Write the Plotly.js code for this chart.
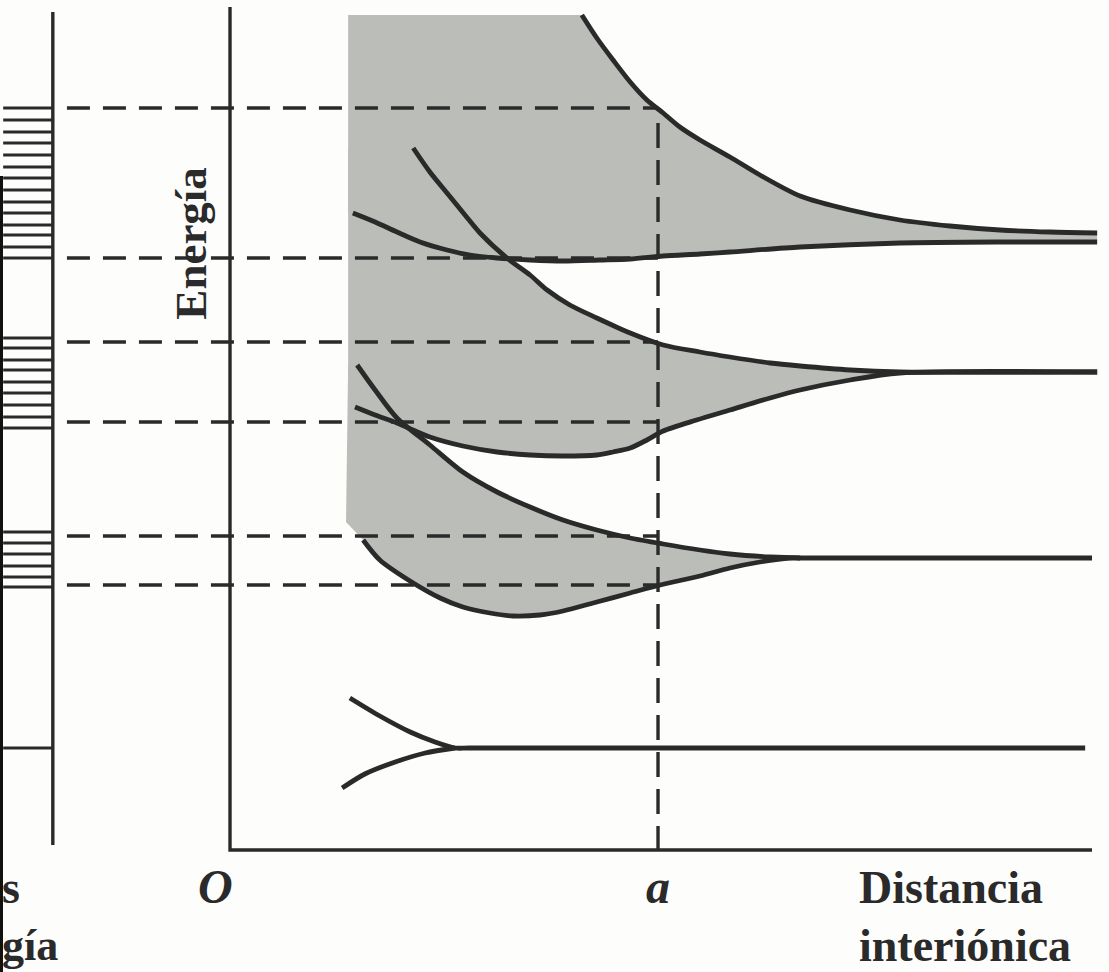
<!DOCTYPE html>
<html>
<head>
<meta charset="utf-8">
<script src="https://cdn.plot.ly/plotly-3.0.1.min.js"></script>
<style>html,body{margin:0;padding:0;background:#fdfdfb;}#chart{width:1109px;height:972px;}</style>
</head>
<body>
<div id="chart"></div>
<script>
// x: interionic distance in units of a (O = 0, a = 1); E: energy (arbitrary units)
const A_DIST = 1.0;

// lowest level (single, narrow)
const lvl0UpperX = [0.280, 0.350, 0.421, 0.479, 0.526, 0.560, 1.998];
const lvl0UpperE = [1.52, 1.34, 1.18, 1.08, 1.02, 1.02, 1.02];
const lvl0LowerX = [0.262, 0.315, 0.386, 0.456, 0.526];
const lvl0LowerE = [0.62, 0.76, 0.88, 0.97, 1.02];

// band 1
const band1UpperX = [0.297, 0.339, 0.390, 0.467, 0.544, 0.624, 0.701, 0.778, 0.857, 0.935, 1.012, 1.098, 1.168, 1.262, 1.332, 2.014];
const band1UpperE = [4.85, 4.60, 4.32, 4.05, 3.78, 3.58, 3.43, 3.30, 3.20, 3.12, 3.06, 3.00, 2.96, 2.93, 2.92, 2.92];
const band1LowerX = [0.311, 0.350, 0.428, 0.491, 0.544, 0.607, 0.661, 0.724, 0.778, 0.857, 0.935, 1.005, 1.098, 1.168, 1.238, 1.308, 1.332];
const band1LowerE = [3.10, 2.90, 2.67, 2.52, 2.43, 2.37, 2.34, 2.35, 2.39, 2.48, 2.57, 2.65, 2.74, 2.82, 2.88, 2.92, 2.92];

// band 2
const band2UpperX = [0.428, 0.467, 0.507, 0.549, 0.584, 0.647, 0.701, 0.741, 0.794, 0.857, 0.935, 1.012, 1.098, 1.168, 1.262, 1.332, 1.449, 1.565, 2.026];
const band2UpperE = [7.02, 6.78, 6.57, 6.35, 6.17, 5.92, 5.75, 5.60, 5.45, 5.32, 5.17, 5.05, 4.98, 4.93, 4.87, 4.84, 4.80, 4.78, 4.78];
const band2LowerX = [0.292, 0.339, 0.390, 0.467, 0.544, 0.624, 0.701, 0.778, 0.857, 0.895, 0.935, 0.974, 1.012, 1.090, 1.168, 1.262, 1.332, 1.449, 1.565, 2.026];
const band2LowerE = [4.43, 4.35, 4.27, 4.13, 4.04, 3.98, 3.95, 3.94, 3.95, 3.98, 4.02, 4.10, 4.19, 4.30, 4.40, 4.52, 4.60, 4.70, 4.77, 4.78];

// band 3
const band3UpperX = [0.822, 0.857, 0.895, 0.935, 0.974, 1.012, 1.051, 1.098, 1.168, 1.238, 1.332, 1.449, 1.565, 1.682, 1.799, 1.916, 2.026];
const band3UpperE = [8.35, 8.12, 7.90, 7.68, 7.50, 7.37, 7.23, 7.10, 6.93, 6.75, 6.54, 6.40, 6.30, 6.24, 6.20, 6.18, 6.17];
const band3LowerX = [0.287, 0.339, 0.390, 0.444, 0.507, 0.561, 0.624, 0.701, 0.778, 0.864, 0.935, 1.012, 1.098, 1.168, 1.332, 1.565, 1.799, 2.026];
const band3LowerE = [6.37, 6.28, 6.18, 6.08, 6.00, 5.95, 5.92, 5.90, 5.89, 5.90, 5.91, 5.94, 5.96, 5.98, 6.03, 6.07, 6.08, 6.08];

// shaded (allowed) region edge on the left
const shadeLeftX = 0.276;
const shadeCornerX = 0.271;
const shadeTopE = 8.35;
const shadeCornerE = 3.28;

// band edges at x = a (dashed projections)
const edgesAtA = [7.42, 5.92, 5.08, 4.28, 3.14, 2.65];

// energy levels drawn in the left band diagram
const band3Levels = [7.42, 7.30, 7.18, 7.07, 6.95, 6.83, 6.72, 6.60, 6.48, 6.37, 6.25, 6.15, 6.03, 5.92];
const band2Levels = [5.12, 5.02, 4.90, 4.80, 4.68, 4.57, 4.45, 4.33, 4.22];
const band1Levels = [3.18, 3.07, 2.96, 2.84, 2.73, 2.63];
const level0 = [1.02];

// axes extents
const diagramX = [-0.530, -0.414];   // left level diagram
const diagramE = [0.05, 8.38];
const mainAxisTopE = 8.43;
const mainAxisRightX = 2.014;
const dashStartX = -0.381;
const aDashTopE = 7.27;

// labels (the left-hand caption is cut by the page edge in the original: only these parts show)
const labelEnergy = "Energía";
const labelO = "O";
const labelA = "a";
const labelDist1 = "Distancia";
const labelDist2 = "interiónica";
const labelLeft1 = "s";
const labelLeft2 = "gía";

const INK = '#2a2a2a';
const GRAY = '#bbbeb8';

function rev(a) { return a.slice().reverse(); }

const traces = [];

// fills
traces.push({
  x: [shadeLeftX].concat(band3UpperX, rev(band3LowerX), [shadeLeftX]),
  y: [shadeTopE].concat(band3UpperE, rev(band3LowerE), [band3LowerE[0]]),
  mode: 'lines', fill: 'toself', fillcolor: GRAY, line: {width: 0, color: GRAY}, hoverinfo: 'skip'
});
traces.push({
  x: band2UpperX.concat(rev(band2LowerX), [shadeLeftX, shadeLeftX]),
  y: band2UpperE.concat(rev(band2LowerE), [band2LowerE[0], band2UpperE[0]]),
  mode: 'lines', fill: 'toself', fillcolor: GRAY, line: {width: 0, color: GRAY}, hoverinfo: 'skip'
});
traces.push({
  x: band1UpperX.concat(rev(band1LowerX), [shadeCornerX, shadeLeftX]),
  y: band1UpperE.concat(rev(band1LowerE), [shadeCornerE, band1UpperE[0]]),
  mode: 'lines', fill: 'toself', fillcolor: GRAY, line: {width: 0, color: GRAY}, hoverinfo: 'skip'
});

// dashed horizontal projections
const dhx = [], dhy = [];
edgesAtA.forEach(e => { dhx.push(dashStartX, A_DIST, null); dhy.push(e, e, null); });
traces.push({x: dhx, y: dhy, mode: 'lines', line: {color: INK, width: 3.4, dash: '23px,13px'}, hoverinfo: 'skip'});
// dashed vertical at a
traces.push({x: [A_DIST, A_DIST], y: [aDashTopE, 0], mode: 'lines', line: {color: INK, width: 3.4, dash: '25px,12px'}, hoverinfo: 'skip'});

// level diagram lines
const lvx = [], lvy = [];
band3Levels.concat(band2Levels, band1Levels, level0).forEach(e => { lvx.push(diagramX[0], diagramX[1], null); lvy.push(e, e, null); });
traces.push({x: lvx, y: lvy, mode: 'lines', line: {color: INK, width: 2.8}, hoverinfo: 'skip'});
// level diagram axis
traces.push({x: [diagramX[1], diagramX[1]], y: diagramE, mode: 'lines', line: {color: INK, width: 3.4}, hoverinfo: 'skip'});

// main axes
traces.push({x: [0, 0, mainAxisRightX], y: [mainAxisTopE, 0, 0], mode: 'lines', line: {color: INK, width: 3.4}, hoverinfo: 'skip'});

// curves
const curves = [
  [lvl0UpperX, lvl0UpperE], [lvl0LowerX, lvl0LowerE],
  [band1UpperX, band1UpperE], [band1LowerX, band1LowerE],
  [band2UpperX, band2UpperE], [band2LowerX, band2LowerE],
  [band3UpperX, band3UpperE], [band3LowerX, band3LowerE]
];
curves.forEach(c => traces.push({
  x: c[0], y: c[1], mode: 'lines',
  line: {color: INK, width: 4.8, shape: 'spline', smoothing: 0.8}, hoverinfo: 'skip'
}));

const serif = 'Liberation Serif, Times New Roman, serif';
const annotations = [
  {x: -0.092, y: 6.07, text: '<b>' + labelEnergy + '</b>', textangle: -90, showarrow: false, xanchor: 'center', yanchor: 'middle',
   font: {family: serif, size: 45, color: INK}},
  {x: -0.035, y: -0.36, text: '<b><i>' + labelO + '</i></b>', showarrow: false, xanchor: 'center', yanchor: 'middle',
   font: {family: serif, size: 48, color: INK}},
  {x: A_DIST, y: -0.36, text: '<b><i>' + labelA + '</i></b>', showarrow: false, xanchor: 'center', yanchor: 'middle',
   font: {family: serif, size: 48, color: INK}},
  {x: 1.465, y: -0.37, text: '<b>' + labelDist1 + '</b>', showarrow: false, xanchor: 'left', yanchor: 'middle',
   font: {family: serif, size: 46, color: INK}},
  {x: 1.465, y: -0.95, text: '<b>' + labelDist2 + '</b>', showarrow: false, xanchor: 'left', yanchor: 'middle',
   font: {family: serif, size: 46, color: INK}},
  {x: -0.5374, y: -0.37, text: '<b>' + labelLeft1 + '</b>', showarrow: false, xanchor: 'left', yanchor: 'middle',
   font: {family: serif, size: 46, color: INK}},
  {x: -0.5374, y: -0.95, text: '<b>' + labelLeft2 + '</b>', showarrow: false, xanchor: 'left', yanchor: 'middle',
   font: {family: serif, size: 44, color: INK}}
];

const layout = {
  width: 1109, height: 972,
  margin: {l: 0, r: 0, t: 0, b: 0},
  paper_bgcolor: '#fdfdfb', plot_bgcolor: '#fdfdfb',
  showlegend: false,
  xaxis: {range: [-0.5374, 2.0537], visible: false, fixedrange: true},
  yaxis: {range: [-1.22, 8.5], visible: false, fixedrange: true},
  annotations: annotations,
  shapes: [
    {type: 'rect', xref: 'paper', yref: 'paper', x0: 0, x1: 0.0027, y0: 0, y1: 1 - 176 / 972,
     fillcolor: '#111', line: {width: 0}}
  ]
};

Plotly.newPlot('chart', traces, layout, {staticPlot: true, displayModeBar: false});
</script>
</body>
</html>
